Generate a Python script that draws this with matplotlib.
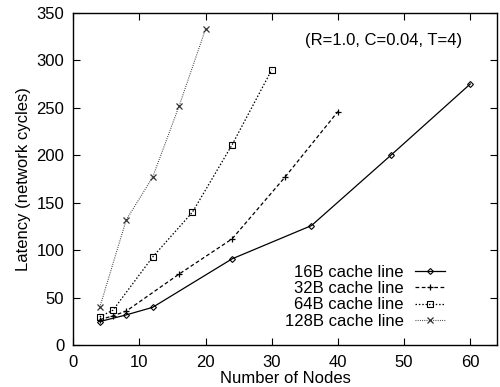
import matplotlib
matplotlib.use("Agg")
import matplotlib.pyplot as plt

plt.rcParams['font.family'] = ['Liberation Sans', 'DejaVu Sans']
plt.rcParams['font.size'] = 12

# latency vs. node count for each cache line size
nodes_16 = [4, 8, 12, 24, 36, 48, 60]
lat_16 = [25, 32, 40, 91, 126, 200, 275]

nodes_32 = [4, 6, 8, 16, 24, 32, 40]
lat_32 = [27, 31, 36, 75, 112, 177, 246]

nodes_64 = [4, 6, 12, 18, 24, 30]
lat_64 = [30, 37, 93, 140, 211, 290]

nodes_128 = [4, 8, 12, 16, 20]
lat_128 = [40, 132, 177, 252, 333]

fig = plt.figure(figsize=(5.0, 3.87), dpi=100)
ax = fig.add_axes([0.1466, 0.1077, 0.8468, 0.8594])

ax.plot(nodes_16, lat_16, color='black', lw=0.9, ls='-', marker='D', ms=3,
        mfc='none', mew=0.8, label='16B cache line')
ax.plot(nodes_32, lat_32, color='black', lw=0.9, ls=(0, (3, 2)), marker='+', ms=5,
        mew=0.9, label='32B cache line')
ax.plot(nodes_64, lat_64, color='black', lw=0.9, ls=(0, (1.2, 1.5)), marker='s', ms=4,
        mfc='none', mew=0.8, label='64B cache line')
ax.plot(nodes_128, lat_128, color='#333333', lw=0.8, ls=(0, (0.8, 1.2)), marker='x', ms=4,
        mew=0.9, label='128B cache line')

ax.set_xlim(0, 64)
ax.set_ylim(0, 350)
ax.set_xticks(range(0, 61, 10))
ax.set_yticks(range(0, 351, 50))
ax.tick_params(direction='in', top=True, right=True, length=5, width=0.8)
ax.tick_params(axis='x', pad=7)
ax.tick_params(axis='y', pad=6.5)
for s in ax.spines.values():
    s.set_linewidth(1.0)

ax.set_xlabel('Number of Nodes', labelpad=0.5)
ax.set_ylabel('Latency (network cycles)', labelpad=4)

ax.text(46.9, 321, '(R=1.0, C=0.04, T=4)', ha='center', va='center')

ax.legend(loc='lower right', frameon=False, markerfirst=False, handlelength=1.8,
          labelspacing=0.08, handletextpad=0.65, borderpad=0, borderaxespad=0,
          bbox_to_anchor=(0.877, 0.05))

fig.savefig('out.png', dpi=100)
